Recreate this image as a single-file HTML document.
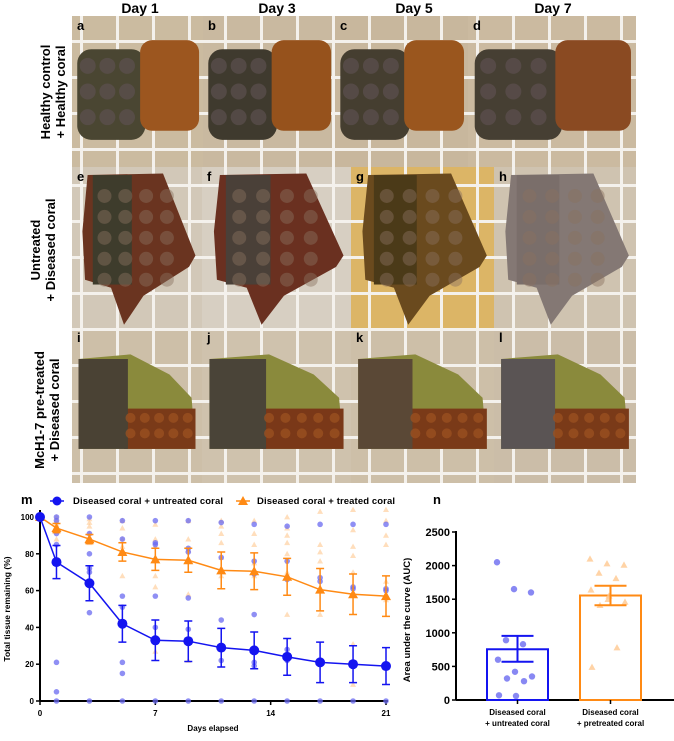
<!DOCTYPE html>
<html><head><meta charset="utf-8">
<style>
body{margin:0;background:#fff;width:674px;height:736px;overflow:hidden;font-family:"Liberation Sans",Arial,sans-serif}
svg text{font-family:"Liberation Sans",Arial,sans-serif;font-weight:bold}
</style></head>
<body>
<svg id="fig" width="674" height="736" viewBox="0 0 674 736" xmlns="http://www.w3.org/2000/svg">
<defs>
<pattern id="grid" width="36" height="36" patternUnits="userSpaceOnUse" x="8" y="4">
<rect width="36" height="36" fill="none"/>
<rect x="0" y="0" width="3" height="36" fill="#f4f1ec"/>
<rect x="0" y="0" width="36" height="3" fill="#f4f1ec"/>
</pattern>
</defs>
<g font-size="14" text-anchor="middle" fill="#000">
<text x="140" y="13" font-weight="bold">Day 1</text>
<text x="277" y="13" font-weight="bold">Day 3</text>
<text x="414" y="13" font-weight="bold">Day 5</text>
<text x="553" y="13" font-weight="bold">Day 7</text>
</g>
<g font-size="13" text-anchor="middle" fill="#000">
<text transform="translate(50,92) rotate(-90)">Healthy control</text>
<text transform="translate(65,92) rotate(-90)">+ Healthy coral</text>
<text transform="translate(40,250) rotate(-90)">Untreated</text>
<text transform="translate(55,250) rotate(-90)">+ Diseased coral</text>
<text transform="translate(44,410) rotate(-90)">McH1-7 pre-treated</text>
<text transform="translate(59,410) rotate(-90)">+ Diseased coral</text>
</g>
<g id="photos"></g>
<g id="chartM"></g>
<g id="chartN"></g>
</svg>
<script>
// ---- chart m data ----
const days = [0,1,3,5,7,9,11,13,15,17,19,21];
const untreatedMean = [100,75.5,64,42,33,32.5,29,27.5,24,21,20,19];
const untreatedErr = [0,9,9.5,10,11,11,10.5,10,10,11,10,10];
const treatedMean = [100,94,88,81,77,76.5,71,70.5,67.5,60.5,58,57];
const treatedErr = [0,2.5,2.5,5,6,6.5,10,10,10,11.5,11,11];
const untreatedPoints = [
 [100,100,100],[100,98,91,85,21,5,0],[100,91,80,72,70,48,0],[98,88,57,51,21,15,0],[98,86,85,57,40,0],[98,83,81,56,39,0],
 [97,78,44,22,0],[96,76,69,47,21,19,0],[95,76,66,28,22,0],[96,67,65,0],[96,62,61,0],[96,61,60,0]];
const treatedPoints = [
 [100,100,100],[100,98,96,92,88],[99,97,95,91,86],[98,94,88,84,68],[96,88,84,68,62,27],[98,88,82,58,22],
 [98,95,91,86,78,68],[98,91,85,75,68],[100,94,90,86,80,70,47],[103,85,81,76,47],[104,93,84,79,70,31,9],[104,98,90,85,65,55]];
const xTicksM = [0,7,14,21];
const yTicksM = [0,20,40,60,80,100];
// ---- chart n data ----
const aucCategories = ["untreated","pretreated"];
const aucMeans = [755,1555];
const aucErrLow = [570,1410];
const aucErrHigh = [955,1700];
const aucUntreatedPts = [2050,1650,1600,890,830,600,420,350,320,280,70,60];
const aucPretreatedPts = [2100,2030,2010,1890,1810,1640,1500,1460,1410,780,490,1550];
const yTicksN = [0,500,1000,1500,2000,2500];

const NS="http://www.w3.org/2000/svg";
function mk(parent,tag,attrs){const e=document.createElementNS(NS,tag);for(const k in attrs)e.setAttribute(k,attrs[k]);parent.appendChild(e);return e;}

// ---- photos ----
const photos=document.getElementById('photos');
const rows=[
 {y:16,h:151,xs:[72,203,335,468,636],bg:['#cbbba0','#c9b9a0','#c8b79d','#cbbaa0'],labels:['a','b','c','d'],type:1},
 {y:167,h:161,xs:[72,202,351,494,636],bg:['#d2c8b8','#d7cfc2','#dcb566','#cfc3b0'],labels:['e','f','g','h'],type:2},
 {y:328,h:155,xs:[72,202,351,494,636],bg:['#cdbfa8','#cfc2ad','#cdbfa8','#cbbda8'],labels:['i','j','k','l'],type:3}];
const coralCols={1:[['#4a4632','#9c561f'],['#3f3a2e','#96521c'],['#453e30','#9a561e'],['#463f33','#8a4a22']],
 2:[['#3e3c2c','#6a3420'],['#4a4038','#6a3020'],['#4b3a18','#6a4a1e'],['#7a6e6a','#847874']],
 3:[['#4a4234','#7a3a18'],['#4a4438','#7a3818'],['#5a4836','#7a3a18'],['#5a5454','#7a3a18']]};
rows.forEach((r,ri)=>{
 for(let c=0;c<4;c++){
  const x=r.xs[c],w=r.xs[c+1]-x,y=r.y,h=r.h;
  const g=mk(photos,'g',{});
  
  
  mk(g,'rect',{x:x,y:y,width:w,height:h,fill:r.bg[c]});
  mk(g,'rect',{x:x,y:y,width:w,height:h,fill:'url(#grid)'});
  const cc=coralCols[r.type][c];
  if(r.type===1){
   mk(g,'rect',{x:x+w*0.04,y:y+h*0.22,width:w*0.52,height:h*0.6,rx:14,fill:cc[0]});
   mk(g,'rect',{x:x+w*0.52,y:y+h*0.16,width:w*0.45,height:h*0.6,rx:12,fill:cc[1]});
   for(let i=0;i<3;i++)for(let j=0;j<3;j++)mk(g,'circle',{cx:x+w*(0.12+0.15*i),cy:y+h*(0.33+0.17*j),r:8,fill:'#5c5050',opacity:0.7});
  } else if(r.type===2){
   const pts=[[0.12,0.05],[0.7,0.04],[0.95,0.55],[0.9,0.62],[0.55,0.8],[0.4,0.98],[0.3,0.75],[0.1,0.7],[0.08,0.4]];
   mk(g,'polygon',{points:pts.map(p=>(x+p[0]*w)+','+(y+p[1]*h)).join(' '),fill:cc[1]});
   mk(g,'rect',{x:x+w*0.16,y:y+h*0.05,width:w*0.3,height:h*0.68,fill:cc[0]});
   for(let i=0;i<4;i++)for(let j=0;j<5;j++)mk(g,'circle',{cx:x+w*(0.25+0.16*i),cy:y+h*(0.18+0.13*j),r:7,fill:'#8a7060',opacity:0.45});
  } else {
   const pts=[[0.05,0.2],[0.45,0.17],[0.75,0.3],[0.92,0.45],[0.95,0.78],[0.05,0.78]];
   mk(g,'polygon',{points:pts.map(p=>(x+p[0]*w)+','+(y+p[1]*h)).join(' '),fill:'#8a8a3c'});
   mk(g,'rect',{x:x+w*0.4,y:y+h*0.52,width:w*0.55,height:h*0.26,fill:cc[1]});
   mk(g,'rect',{x:x+w*0.05,y:y+h*0.2,width:w*0.38,height:h*0.58,fill:cc[0]});
   for(let i=0;i<5;i++)for(let j=0;j<2;j++)mk(g,'circle',{cx:x+w*(0.45+0.11*i),cy:y+h*(0.58+0.1*j),r:5,fill:'#9a5020',opacity:0.8});
  }
  const t=mk(g,'text',{x:x+5,y:y+14,'font-size':13,fill:'#000'});t.textContent=r.labels[c];
  
  
 }
});

// ---- chart m ----
const M=document.getElementById('chartM');
const mx=d=>40+d*(346/21);
const my=v=>701-v*1.84;
const BLUE='#1414f0',ORANGE='#ff8a14';
mk(M,'line',{x1:40,y1:my(0),x2:388,y2:my(0),stroke:'#000','stroke-width':2});
mk(M,'line',{x1:40,y1:my(0),x2:40,y2:510,stroke:'#000','stroke-width':2});
const mlab=mk(M,'text',{x:21,y:504,'font-size':13});mlab.textContent='m';


yTicksM.forEach(v=>{mk(M,'line',{x1:36,x2:40,y1:my(v),y2:my(v),stroke:'#000','stroke-width':1.5});
 const t=mk(M,'text',{x:34,y:my(v)+3,'font-size':8,'text-anchor':'end'});t.textContent=v;
 
 });
xTicksM.forEach(v=>{mk(M,'line',{x1:mx(v),x2:mx(v),y1:my(0),y2:my(0)+4,stroke:'#000','stroke-width':1.5});
 const t=mk(M,'text',{x:mx(v),y:716,'font-size':8,'text-anchor':'middle'});t.textContent=v;
 
 });
let t=mk(M,'text',{x:213,y:731,'font-size':8,'text-anchor':'middle'});t.textContent='Days elapsed';


t=mk(M,'text',{transform:'translate(10,609) rotate(-90)','font-size':8.5,'text-anchor':'middle'});t.textContent='Total tissue remaining (%)';


function tri(p,cx,cy,s,fill,op){const e=mk(p,'polygon',{points:`${cx},${cy-s} ${cx-s},${cy+s*0.8} ${cx+s},${cy+s*0.8}`,fill:fill,opacity:op});return e;}
treatedPoints.forEach((arr,i)=>arr.forEach(v=>{const e=tri(M,mx(days[i]),my(v),3,'#ffc890',0.6);
 
 }));
untreatedPoints.forEach((arr,i)=>arr.forEach(v=>{const e=mk(M,'circle',{cx:mx(days[i]),cy:my(v),r:2.8,fill:'#6a6af0',opacity:0.75});
 
 }));
function series(means,errs,color,name,isTri){
 mk(M,'polyline',{points:days.map((d,i)=>mx(d)+','+my(means[i])).join(' '),fill:'none',stroke:color,'stroke-width':1.5});
 days.forEach((d,i)=>{
  if(errs[i]>0){const x=mx(d),y1=my(means[i]-errs[i]),y2=my(means[i]+errs[i]);
   const eb=mk(M,'path',{d:`M${x},${y1}V${y2}M${x-4},${y1}H${x+4}M${x-4},${y2}H${x+4}`,stroke:color,'stroke-width':1.5,fill:'none'});
   
   }
  const m=isTri?tri(M,mx(d),my(means[i]),5,color,1):mk(M,'circle',{cx:mx(d),cy:my(means[i]),r:5,fill:color});
  
  
 });
}
series(treatedMean,treatedErr,ORANGE,'treated',true);
series(untreatedMean,untreatedErr,BLUE,'untreated',false);
// legend
const lg=mk(M,'g',{});


mk(lg,'line',{x1:50,x2:64,y1:501,y2:501,stroke:BLUE,'stroke-width':1.5});
mk(lg,'circle',{cx:57,cy:501,r:4.5,fill:BLUE});
t=mk(lg,'text',{x:73,y:504,'font-size':9.5,textLength:150});t.textContent='Diseased coral + untreated coral';


mk(lg,'line',{x1:236,x2:250,y1:501,y2:501,stroke:ORANGE,'stroke-width':1.5});
tri(lg,243,501,5,ORANGE,1);
t=mk(lg,'text',{x:257,y:504,'font-size':9.5,textLength:138});t.textContent='Diseased coral + treated coral';



// ---- chart n ----
const N=document.getElementById('chartN');
const ny=v=>700-v*(168/2500);
const barX=[487,580],barW=61;
t=mk(N,'text',{x:433,y:504,'font-size':13});t.textContent='n';


mk(N,'line',{x1:456,y1:700,x2:674,y2:700,stroke:'#000','stroke-width':2});
mk(N,'line',{x1:456,y1:700,x2:456,y2:531,stroke:'#000','stroke-width':2});
yTicksN.forEach(v=>{mk(N,'line',{x1:452,x2:456,y1:ny(v),y2:ny(v),stroke:'#000','stroke-width':1.5});
 const tt=mk(N,'text',{x:450,y:ny(v)+4,'font-size':11,'text-anchor':'end'});tt.textContent=v;
 
 });
t=mk(N,'text',{transform:'translate(410,620) rotate(-90)','font-size':9.5,'text-anchor':'middle'});t.textContent='Area under the curve (AUC)';


const colsN=[BLUE,ORANGE],ptsN=[aucUntreatedPts,aucPretreatedPts];
const catLabels=[['Diseased coral','+ untreated coral'],['Diseased coral','+ pretreated coral']];
aucCategories.forEach((c,i)=>{
 const b=mk(N,'rect',{x:barX[i],y:ny(aucMeans[i]),width:barW,height:700-ny(aucMeans[i]),fill:'none',stroke:colsN[i],'stroke-width':2});
 
 
 ptsN[i].forEach((v,k)=>{const cx=barX[i]+10+(k*17)%42;
  const p=i===0?mk(N,'circle',{cx:cx,cy:ny(v),r:3.2,fill:'#6a6af0',opacity:0.8}):tri(N,cx,ny(v),3.5,'#ffc890',0.8);
  
  });
 const cx=barX[i]+barW/2,y1=ny(aucErrLow[i]),y2=ny(aucErrHigh[i]);
 const eb=mk(N,'path',{d:`M${cx},${y1}V${y2}M${cx-16},${y1}H${cx+16}M${cx-16},${y2}H${cx+16}`,stroke:colsN[i],'stroke-width':2,fill:'none'});
 
 
 mk(N,'line',{x1:cx,x2:cx,y1:700,y2:704,stroke:'#000','stroke-width':1.5});
 catLabels[i].forEach((s,j)=>{const tt=mk(N,'text',{x:cx,y:715+j*11,'font-size':8,'text-anchor':'middle'});tt.textContent=s;
  
  });
});
</script>
</body></html>
